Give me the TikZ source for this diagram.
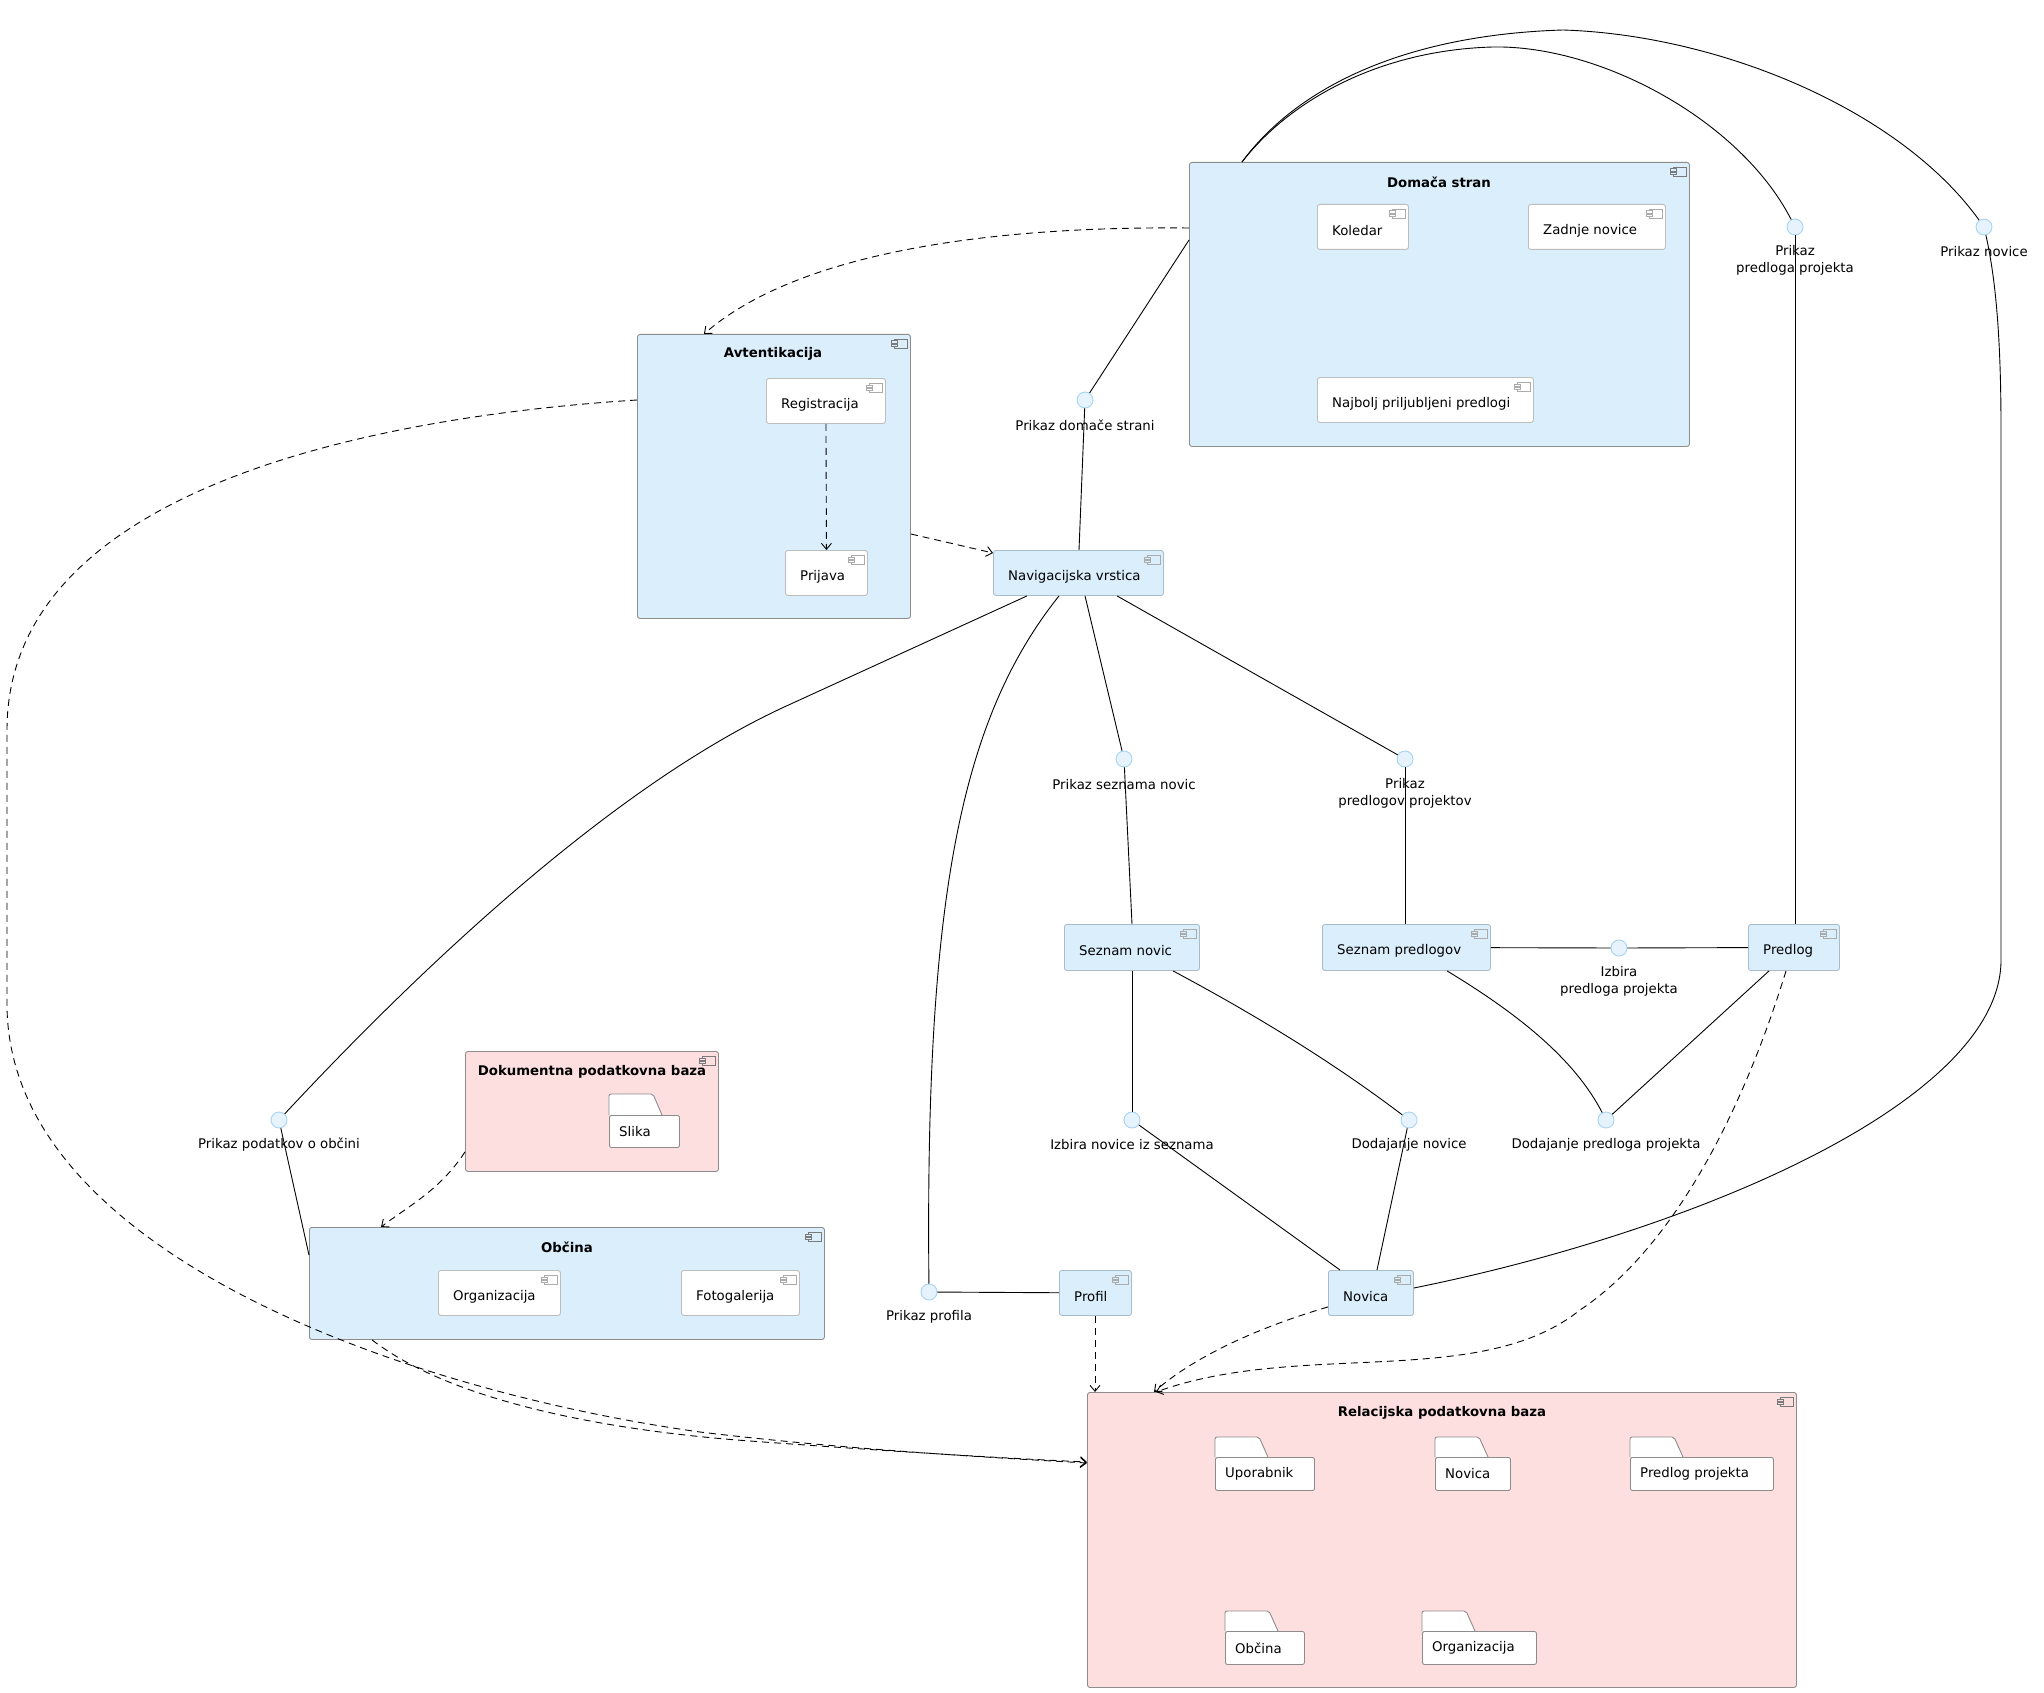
\documentclass[tikz,border=0pt]{standalone}
\usepackage{fontspec}
\setmainfont{DejaVu Sans}
\usetikzlibrary{arrows.meta,calc}
\definecolor{blueF}{HTML}{DAEEFC}
\definecolor{pinkF}{HTML}{FDDFE0}
\definecolor{contB}{HTML}{8C8C8C}
\definecolor{leafB}{HTML}{A9BCCB}
\definecolor{innerB}{HTML}{BDBDBD}
\definecolor{ifF}{HTML}{E6F3FC}
\definecolor{ifB}{HTML}{A6D4F2}
\definecolor{iconD}{HTML}{7A7A7A}
\definecolor{iconL}{HTML}{ABABAB}
\tikzset{
  every node/.style={font=\fontsize{13.3}{17}\selectfont},
  box/.style={rectangle, inner sep=0pt, anchor=north west, rounded corners=2.5pt, line width=0.9pt},
  contbox/.style={box, draw=contB, fill=blueF},
  dbbox/.style={box, draw=contB, fill=pinkF},
  leafbox/.style={box, draw=leafB, fill=blueF},
  innerbox/.style={box, draw=innerB, fill=white},
  foldbox/.style={box, draw=contB, fill=white, rounded corners=2pt},
  ctitle/.style={font=\fontsize{13.3}{17}\selectfont\bfseries, inner sep=0pt},
  ctext/.style={anchor=west, inner sep=0pt},
  iface/.style={circle, draw=ifB, fill=ifF, minimum size=16pt, inner sep=0pt, line width=0.9pt},
  ilabel/.style={align=center, inner sep=0pt},
  conn/.style={draw=black, line width=0.9pt},
  dep/.style={conn, dash pattern=on 7pt off 5pt, -{Straight Barb[length=6pt,width=10pt]}},
  pics/cicon/.style={code={
    \draw[line width=0.6pt, fill=#1] (-17,5) rectangle (-4,14);
    \draw[line width=0.6pt, fill=#1] (-20,6.8) rectangle (-14,9);
    \draw[line width=0.6pt, fill=#1] (-20,10) rectangle (-14,12.2);
  }}
}
\newcommand\boxat[6]{%
  \pgfmathsetmacro\myBW{#5-#3}\pgfmathsetmacro\myBH{#6-#4}%
  \node[#1, minimum width=\myBW pt, minimum height=\myBH pt] (#2) at (#3,#4) {};}
\newcommand\folderat[7]{%
  \draw[foldbox] (#2,#5) -- (#2,#4) -- (#2+44,#4) -- (#2+53,#5);
  \boxat{foldbox}{#1}{#2}{#5}{#3}{#6}
  \node[ctext] (#1T) at ($(#1.west)+(10,0)$) {#7};}
\begin{document}
\begin{tikzpicture}[x=1pt,y=-1pt]
\useasboundingbox[fill=white] (0,0) rectangle (2044,1693);

% ---------- containers ----------
\boxat{contbox}{dom}{1189}{162}{1689}{446}
\node[ctitle] (domT) at (1439,182) {Domača stran};
\pic[color=iconD] at (dom.north east) {cicon=blueF};

\boxat{contbox}{avt}{637}{334}{910}{618}
\node[ctitle] (avtT) at (773,354) {Avtentikacija};
\pic[color=iconD] at (avt.north east) {cicon=blueF};

\boxat{dbbox}{dok}{465}{1051}{718}{1171}
\node[ctitle] (dokT) at (592,1072) {Dokumentna podatkovna baza};
\pic[color=iconD] at (dok.north east) {cicon=pinkF};

\boxat{contbox}{obc}{309}{1227}{824}{1339}
\node[ctitle] (obcT) at (567,1247) {Občina};
\pic[color=iconD] at (obc.north east) {cicon=blueF};

\boxat{dbbox}{rel}{1087}{1392}{1796}{1687}
\node[ctitle] (relT) at (1442,1413) {Relacijska podatkovna baza};
\pic[color=iconD] at (rel.north east) {cicon=pinkF};

% ---------- inner components ----------
\boxat{innerbox}{kol}{1317}{204}{1408}{249}
\node[ctext] (kolT) at ($(kol.north west)+(15,27)$) {Koledar};
\pic[color=iconL] at (kol.north east) {cicon=white};
\boxat{innerbox}{zad}{1528}{204}{1665}{249}
\node[ctext] (zadT) at ($(zad.north west)+(15,27)$) {Zadnje novice};
\pic[color=iconL] at (zad.north east) {cicon=white};
\boxat{innerbox}{naj}{1317}{377}{1533}{422}
\node[ctext] (najT) at ($(naj.north west)+(15,27)$) {Najbolj priljubljeni predlogi};
\pic[color=iconL] at (naj.north east) {cicon=white};

\boxat{innerbox}{reg}{766}{378}{885}{423}
\node[ctext] (regT) at ($(reg.north west)+(15,27)$) {Registracija};
\pic[color=iconL] at (reg.north east) {cicon=white};
\boxat{innerbox}{prij}{785}{550}{867}{595}
\node[ctext] (prijT) at ($(prij.north west)+(15,27)$) {Prijava};
\pic[color=iconL] at (prij.north east) {cicon=white};

\boxat{innerbox}{org}{438}{1270}{560}{1315}
\node[ctext] (orgT) at ($(org.north west)+(15,27)$) {Organizacija};
\pic[color=iconL] at (org.north east) {cicon=white};
\boxat{innerbox}{foto}{681}{1270}{799}{1315}
\node[ctext] (fotoT) at ($(foto.north west)+(15,27)$) {Fotogalerija};
\pic[color=iconL] at (foto.north east) {cicon=white};

% ---------- folders ----------
\folderat{slika}{609}{679}{1094}{1115}{1147}{Slika}
\folderat{fup}{1215}{1314}{1437}{1457}{1490}{Uporabnik}
\folderat{fnov}{1435}{1510}{1437}{1457}{1490}{Novica}
\folderat{fpp}{1630}{1773}{1437}{1457}{1490}{Predlog projekta}
\folderat{fobc}{1225}{1304}{1611}{1631}{1664}{Občina}
\folderat{forg}{1422}{1536}{1611}{1631}{1664}{Organizacija}

% ---------- leaf components ----------
\boxat{leafbox}{nav}{993}{550}{1163}{595}
\node[ctext] (navT) at ($(nav.north west)+(15,27)$) {Navigacijska vrstica};
\pic[color=iconL] at (nav.north east) {cicon=blueF};
\boxat{leafbox}{sn}{1064}{924}{1199}{970}
\node[ctext] (snT) at ($(sn.north west)+(15,27)$) {Seznam novic};
\pic[color=iconL] at (sn.north east) {cicon=blueF};
\boxat{leafbox}{sp}{1322}{924}{1490}{970}
\node[ctext] (spT) at ($(sp.north west)+(15,27)$) {Seznam predlogov};
\pic[color=iconL] at (sp.north east) {cicon=blueF};
\boxat{leafbox}{predlog}{1748}{924}{1839}{970}
\node[ctext] (predlogT) at ($(predlog.north west)+(15,27)$) {Predlog};
\pic[color=iconL] at (predlog.north east) {cicon=blueF};
\boxat{leafbox}{profil}{1059}{1270}{1131}{1315}
\node[ctext] (profilT) at ($(profil.north west)+(15,27)$) {Profil};
\pic[color=iconL] at (profil.north east) {cicon=blueF};
\boxat{leafbox}{novica}{1328}{1270}{1413}{1315}
\node[ctext] (novicaT) at ($(novica.north west)+(15,27)$) {Novica};
\pic[color=iconL] at (novica.north east) {cicon=blueF};

% ---------- interfaces ----------
\node[iface] (pds) at (1085,400) {};
\node[ilabel] (pdsL) at (1085,425) {Prikaz domače strani};
\node[iface] (ppp) at (1795,227) {};
\node[ilabel] (pppL) at (1795,260) {Prikaz\\predloga projekta};
\node[iface] (pnov) at (1984,227) {};
\node[ilabel] (pnovL) at (1984,252) {Prikaz novice};
\node[iface] (psn) at (1124,759) {};
\node[ilabel] (psnL) at (1124,785) {Prikaz seznama novic};
\node[iface] (ppr) at (1405,759) {};
\node[ilabel] (pprL) at (1405,793) {Prikaz\\predlogov projektov};
\node[iface] (ipp) at (1619,948) {};
\node[ilabel] (ippL) at (1619,981) {Izbira\\predloga projekta};
\node[iface] (ins) at (1132,1120) {};
\node[ilabel] (insL) at (1132,1145) {Izbira novice iz seznama};
\node[iface] (dnov) at (1409,1120) {};
\node[ilabel] (dnovL) at (1409,1145) {Dodajanje novice};
\node[iface] (dpp) at (1606,1120) {};
\node[ilabel] (dppL) at (1606,1145) {Dodajanje predloga projekta};
\node[iface] (pob) at (279,1120) {};
\node[ilabel] (pobL) at (279,1145) {Prikaz podatkov o občini};
\node[iface] (pprof) at (929,1292) {};
\node[ilabel] (pprofL) at (929,1317) {Prikaz profila};

% ---------- solid connectors ----------
\draw[conn] ($(dom.north west)+(0,78)$) -- (pds);
\draw[conn] (pds) -- ($(nav.north west)+(86,0)$);
\draw[conn] ($(dom.north west)+(53,0)$) .. controls (1290,100) and (1380,50) .. (1493,47)
            .. controls (1600,45) and (1740,120) .. (ppp);
\draw[conn] ($(dom.north west)+(53,0)$) .. controls (1295,90) and (1400,35) .. (1563,30)
            .. controls (1720,35) and (1900,110) .. (pnov);
\draw[conn] (ppp) -- ($(predlog.north west)+(47,0)$);
\draw[conn] (pnov) .. controls (1996,280) and (2001,340) .. (2001,430) -- (2001,960)
            .. controls (2001,1100) and (1700,1230) .. ($(novica.north east)+(0,18)$);
\draw[conn] ($(nav.south west)+(92,0)$) -- (psn);
\draw[conn] ($(nav.south west)+(124,0)$) -- (ppr);
\draw[conn] ($(nav.south west)+(34,0)$) -- (782,708) .. controls (600,793) and (400,990) .. (pob);
\draw[conn] ($(nav.south west)+(66,0)$) .. controls (960,720) and (925,900) .. (pprof);
\draw[conn] (psn) -- ($(sn.north west)+(68,0)$);
\draw[conn] (ppr) -- ($(sp.north west)+(83,0)$);
\draw[conn] (sp) -- (ipp);
\draw[conn] (ipp) -- (predlog);
\draw[conn] ($(sn.south west)+(68,0)$) -- (ins);
\draw[conn] ($(sn.south west)+(109,0)$) .. controls (1250,1012) and (1330,1060) .. (dnov);
\draw[conn] ($(sp.south west)+(125,0)$) .. controls (1520,1015) and (1575,1060) .. (dpp);
\draw[conn] ($(predlog.south west)+(21,0)$) -- (dpp);
\draw[conn] (ins) -- ($(novica.north west)+(12,0)$);
\draw[conn] (dnov) -- ($(novica.north west)+(49,0)$);
\draw[conn] (pprof) -- (profil);
\draw[conn] (pob) -- ($(obc.north west)+(0,28)$);

% ---------- dependencies ----------
\draw[dep] ($(dom.north west)+(0,66)$) .. controls (1000,226) and (800,250) .. ($(avt.north west)+(67,0)$);
\draw[dep] ($(avt.north east)+(0,200)$) -- ($(nav.north west)+(0,3)$);
\draw[dep] (reg.south) -- (prij.north);
\draw[dep] ($(avt.north west)+(0,66)$) .. controls (400,415) and (7,480) .. (7,730) -- (7,1004)
            .. controls (7,1250) and (400,1390) .. (700,1432)
            .. controls (850,1450) and (1000,1458) .. ($(rel.north west)+(0,71)$);
\draw[dep] ($(obc.south west)+(63,0)$) .. controls (450,1400) and (600,1430) .. (750,1441)
            .. controls (900,1452) and (1000,1458) .. ($(rel.north west)+(0,70)$);
\draw[dep] ($(dok.south west)+(0,-20)$) .. controls (440,1190) and (410,1205) .. ($(obc.north west)+(72,0)$);
\draw[dep] ($(profil.south west)+(36,0)$) -- ($(rel.north west)+(8,0)$);
\draw[dep] ($(novica.south west)+(0,-9)$) .. controls (1250,1330) and (1190,1360) .. ($(rel.north west)+(67,0)$);
\draw[dep] ($(predlog.south west)+(38,0)$) .. controls (1740,1120) and (1670,1250) .. (1580,1310)
            .. controls (1480,1390) and (1300,1340) .. ($(rel.north west)+(69,0)$);
\end{tikzpicture}
\end{document}
